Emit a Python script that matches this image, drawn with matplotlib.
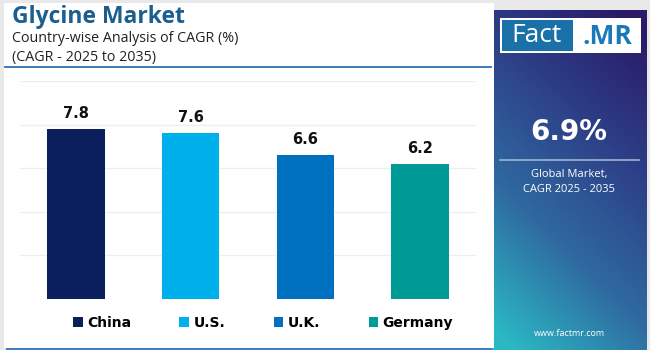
import matplotlib.pyplot as plt
import numpy as np
from matplotlib.patches import Rectangle
from matplotlib.colors import LinearSegmentedColormap

# data
countries = ["China", "U.S.", "U.K.", "Germany"]
cagr = [7.8, 7.6, 6.6, 6.2]
bar_colors = ["#0b1f5c", "#00b0ec", "#0070c0", "#009b96"]
global_cagr = "6.9%"

plt.rcParams["font.family"] = ["Open Sans", "DejaVu Sans"]

W, H = 650, 350
fig = plt.figure(figsize=(6.5, 3.5), dpi=100)
fig.patch.set_facecolor("#e9e9e9")


def fx(px):
    return px / W


def fy(py):
    return 1 - py / H


# white card
fig.patches.append(Rectangle((fx(4), fy(348)), fx(490), 345 / H, transform=fig.transFigure,
                             facecolor="white", edgecolor="none", zorder=0))
# bottom blue line of the card
fig.patches.append(Rectangle((fx(6), fy(350)), fx(486), 2.5 / H, transform=fig.transFigure,
                             facecolor="#3d7fc0", edgecolor="none", zorder=1))

# title block
fig.text(fx(12), fy(17), "Glycine Market", fontsize=16.5, fontweight="bold",
         color="#1b5e8f", va="center", ha="left")
fig.text(fx(12), fy(38), "Country-wise Analysis of CAGR (%)", fontsize=10.3,
         color="#222222", va="center", ha="left")
fig.text(fx(12), fy(57), "(CAGR - 2025 to 2035)", fontsize=10.3,
         color="#222222", va="center", ha="left")
fig.add_artist(plt.Line2D([fx(5), fx(491)], [fy(67), fy(67)], transform=fig.transFigure,
                          color="#2f6fae", lw=1.3))

# bar chart
ax = fig.add_axes([fx(20), fy(299), fx(456), 218 / H])
ax.set_zorder(3)
ax.set_facecolor("none")
x = np.arange(len(countries))
bars = ax.bar(x, cagr, width=0.5, color=bar_colors, zorder=3, label=countries)
for xi, v in zip(x, cagr):
    ax.text(xi, v + 0.36, f"{v}", ha="center", va="bottom", fontsize=10.5,
            fontweight="bold", color="#111111", family="DejaVu Sans")
ax.set_xlim(-0.49, 3.49)
ax.set_ylim(0, 10)
ax.set_yticks(np.arange(0, 11, 2))
ax.yaxis.grid(True, color="#eeeeee", lw=0.9, zorder=0)
ax.tick_params(left=False, bottom=False, labelleft=False, labelbottom=False)
for s in ax.spines.values():
    s.set_visible(False)

leg = fig.legend(bars, countries, loc="center", bbox_to_anchor=(fx(263), fy(323)),
                 ncol=4, frameon=False, handlelength=0.7, handleheight=0.7,
                 handletextpad=0.3, columnspacing=3.5,
                 prop={"family": "DejaVu Sans", "weight": "bold", "size": 10})
leg.set_zorder(4)

# right gradient panel
pax = fig.add_axes([fx(491), 0, fx(156), fy(10)])
pax.set_axis_off()
cmap = LinearSegmentedColormap.from_list("panel", ["#2bb8c4", "#2f6aa0", "#2d3f88", "#2b1a68"])
gy, gx = np.mgrid[0:1:200j, 0:1:100j]
grad = (0.8 * gy + 0.35 * gx)
pax.imshow(grad, cmap=cmap, aspect="auto", extent=[0, 1, 0, 1], origin="lower",
           vmin=0.05, vmax=1.1)
pax.set_xlim(0, 1)
pax.set_ylim(0, 1)

# logo
fig.patches.append(Rectangle((fx(500), fy(53)), fx(141), 35 / H, transform=fig.transFigure,
                             facecolor="white", edgecolor="none", zorder=5))
fig.patches.append(Rectangle((fx(502), fy(51)), fx(71), 31 / H, transform=fig.transFigure,
                             facecolor="#1a70a8", edgecolor="none", zorder=6))
fig.text(fx(537), fy(36), "Fact", fontsize=19, color="white", ha="center", va="center",
         zorder=7)
fig.text(fx(607), fy(36), ".MR", fontsize=19, color="#1a7ab8", fontweight="bold",
         ha="center", va="center", zorder=7)

fig.text(fx(569), fy(132), global_cagr, fontsize=20, fontweight="bold", color="white",
         ha="center", va="center", family="DejaVu Sans")
fig.add_artist(plt.Line2D([fx(500), fx(639)], [fy(160), fy(160)], transform=fig.transFigure,
                          color="#9fb3d6", lw=1.2))
fig.text(fx(569), fy(174), "Global Market,", fontsize=8, color="white", ha="center", va="center")
fig.text(fx(569), fy(189), "CAGR 2025 - 2035", fontsize=8, color="white", ha="center", va="center")
fig.text(fx(569), fy(334), "www.factmr.com", fontsize=6.5, color="white", ha="center", va="center")

fig.savefig("out.png", dpi=100, facecolor=fig.get_facecolor())
